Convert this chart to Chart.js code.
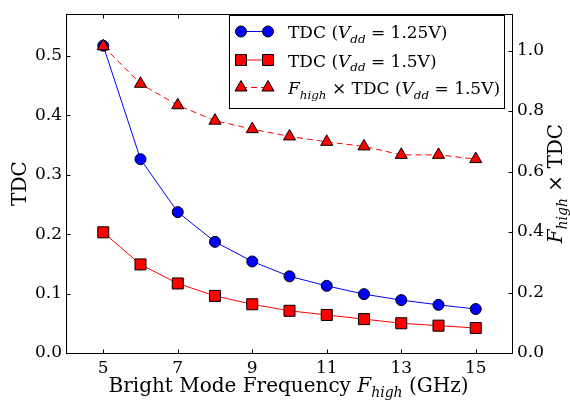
<!DOCTYPE html>
<html>
<head>
<meta charset="utf-8">
<script src="https://cdn.jsdelivr.net/npm/chart.js@4.4.1/dist/chart.umd.min.js"></script>
<style>
  html, body { margin: 0; padding: 0; background: #fff; }
  #wrap { width: 570px; height: 403px; }
</style>
</head>
<body>
<div id="wrap"><canvas id="c" width="570" height="403"></canvas></div>
<script>
// ---- data ----
const freqs = [5, 6, 7, 8, 9, 10, 11, 12, 13, 14, 15];
const tdcVdd125 = [0.517, 0.326, 0.237, 0.187, 0.154, 0.129, 0.113, 0.099, 0.089, 0.081, 0.074];
const tdcVdd15 = [0.203, 0.149, 0.117, 0.096, 0.082, 0.071, 0.064, 0.057, 0.050, 0.046, 0.042];
const fTdcVdd15 = [1.014, 0.890, 0.819, 0.768, 0.740, 0.716, 0.698, 0.683, 0.655, 0.655, 0.641];
const xTicks = [5, 7, 9, 11, 13, 15];
const leftTicks = [0.0, 0.1, 0.2, 0.3, 0.4, 0.5];
const rightTicks = [0.0, 0.2, 0.4, 0.6, 0.8, 1.0];

const FONT = "'DejaVu Serif', 'Liberation Serif', serif";
const TICK_SIZE = 17;

// rich text: segments [text, italic, sub]
function richWidth(ctx, segs, size) {
  let w = 0;
  for (const s of segs) {
    const fs = s[2] ? size * 0.7 : size;
    ctx.font = (s[1] ? 'italic ' : '') + fs + 'px ' + FONT;
    w += ctx.measureText(s[0]).width;
  }
  return w;
}
function drawRich(ctx, segs, x, y, size) {
  let cx = x;
  ctx.textBaseline = 'alphabetic';
  ctx.textAlign = 'left';
  ctx.fillStyle = '#000';
  for (const s of segs) {
    const fs = s[2] ? size * 0.7 : size;
    ctx.font = (s[1] ? 'italic ' : '') + fs + 'px ' + FONT;
    ctx.fillText(s[0], cx, y + (s[2] ? size * 0.27 : 0));
    cx += ctx.measureText(s[0]).width;
  }
}

const xTitle = [['Bright Mode Frequency ', false, false], ['F', true, false], ['high', true, true], [' (GHz)', false, false]];
const yTitle = [['TDC', false, false]];
const y2Title = [['F', true, false], ['high', true, true], [' \u00d7 TDC', false, false]];
const legendItems = [
  { segs: [['TDC (', false, false], ['V', true, false], ['dd', true, true], [' = 1.25V)', false, false]], ds: 0 },
  { segs: [['TDC (', false, false], ['V', true, false], ['dd', true, true], [' = 1.5V)', false, false]], ds: 1 },
  { segs: [['F', true, false], ['high', true, true], [' \u00d7 TDC (', false, false], ['V', true, false], ['dd', true, true], [' = 1.5V)', false, false]], ds: 2 }
];

function drawMarker(ctx, style, x, y, r, fill) {
  ctx.save();
  ctx.fillStyle = fill;
  ctx.strokeStyle = '#000';
  ctx.lineWidth = 1;
  ctx.setLineDash([]);
  ctx.beginPath();
  if (style === 'circle') {
    ctx.arc(x, y, r, 0, Math.PI * 2);
  } else if (style === 'rect') {
    const s = r * Math.SQRT1_2;
    ctx.rect(x - s, y - s, 2 * s, 2 * s);
  } else {
    ctx.moveTo(x, y - r);
    ctx.lineTo(x + Math.sin(Math.PI * 2 / 3) * r, y + r / 2);
    ctx.lineTo(x - Math.sin(Math.PI * 2 / 3) * r, y + r / 2);
    ctx.closePath();
  }
  ctx.fill();
  ctx.stroke();
  ctx.restore();
}

const decorPlugin = {
  id: 'decor',
  afterDraw(chart) {
    const ctx = chart.ctx;
    const a = chart.chartArea;
    const L = Math.round(a.left) + 0.5, R = Math.round(a.right) - 0.5;
    const T = Math.round(a.top) + 0.5, B = Math.round(a.bottom) + 0.5;
    ctx.save();
    // frame
    ctx.strokeStyle = '#000';
    ctx.lineWidth = 1;
    ctx.strokeRect(L, T, R - L, B - T);
    // inward ticks
    const tl = 4;
    ctx.beginPath();
    const xs = chart.scales.x, yl = chart.scales.y, yr = chart.scales.y2;
    for (const v of xTicks) {
      const px = Math.round(xs.getPixelForValue(v)) + 0.5;
      ctx.moveTo(px, B); ctx.lineTo(px, B - tl);
      ctx.moveTo(px, T); ctx.lineTo(px, T + tl);
    }
    for (const v of leftTicks) {
      const py = Math.round(yl.getPixelForValue(v)) + 0.5;
      ctx.moveTo(L, py); ctx.lineTo(L + tl, py);
    }
    for (const v of rightTicks) {
      const py = Math.round(yr.getPixelForValue(v)) + 0.5;
      ctx.moveTo(R, py); ctx.lineTo(R - tl, py);
    }
    ctx.stroke();

    // axis titles
    const TS = 20;
    const xw = richWidth(ctx, xTitle, TS);
    drawRich(ctx, xTitle, (a.left + a.right) / 2 - 1 - xw / 2, 392, TS);

    const cy = (a.top + a.bottom) / 2;
    ctx.save();
    ctx.translate(26, cy);
    ctx.rotate(-Math.PI / 2);
    const yw = richWidth(ctx, yTitle, 20);
    drawRich(ctx, yTitle, -yw / 2, 0, 20);
    ctx.restore();

    ctx.save();
    ctx.translate(562, cy);
    ctx.rotate(-Math.PI / 2);
    const y2w = richWidth(ctx, y2Title, 20);
    drawRich(ctx, y2Title, -y2w / 2, 0, 20);
    ctx.restore();

    // legend
    const bx = 229.5, by = 15.5, bw = 275, bh = 93;
    ctx.fillStyle = '#fff';
    ctx.fillRect(bx, by, bw, bh);
    ctx.strokeStyle = '#000';
    ctx.lineWidth = 1;
    ctx.strokeRect(bx, by, bw, bh);
    const rows = [31.5, 60, 87.5];
    legendItems.forEach((it, i) => {
      const ds = chart.data.datasets[it.ds];
      const y = rows[i];
      const x0 = 241, x1 = 268;
      ctx.save();
      ctx.strokeStyle = ds.borderColor;
      ctx.lineWidth = 1;
      ctx.setLineDash(ds.borderDash || []);
      ctx.beginPath();
      ctx.moveTo(x0, y); ctx.lineTo(x1, y);
      ctx.stroke();
      ctx.restore();
      drawMarker(ctx, ds.pointStyle, x0, y, ds.pointRadius, ds.pointBackgroundColor);
      drawMarker(ctx, ds.pointStyle, x1, y, ds.pointRadius, ds.pointBackgroundColor);
      drawRich(ctx, it.segs, 288, y + 6.5, 17);
    });
    ctx.restore();
  }
};

const mk = (arr) => freqs.map((f, i) => ({ x: f, y: arr[i] }));

new Chart(document.getElementById('c'), {
  type: 'line',
  data: {
    datasets: [
      {
        label: 'TDC (Vdd = 1.25V)', data: mk(tdcVdd125), yAxisID: 'y', order: 2,
        borderColor: '#0000ff', borderWidth: 1, pointStyle: 'circle', pointRadius: 5.5,
        pointBackgroundColor: '#0000ff', pointBorderColor: '#000', pointBorderWidth: 1, tension: 0
      },
      {
        label: 'TDC (Vdd = 1.5V)', data: mk(tdcVdd15), yAxisID: 'y', order: 1,
        borderColor: '#ff0000', borderWidth: 1, pointStyle: 'rect', pointRadius: 7.8,
        pointBackgroundColor: '#ff0000', pointBorderColor: '#000', pointBorderWidth: 1, tension: 0
      },
      {
        label: 'Fhigh × TDC (Vdd = 1.5V)', data: mk(fTdcVdd15), yAxisID: 'y2', order: 0,
        borderColor: '#ff0000', borderWidth: 1, borderDash: [6, 4], pointStyle: 'triangle', pointRadius: 7,
        pointBackgroundColor: '#ff0000', pointBorderColor: '#000', pointBorderWidth: 1, tension: 0
      }
    ]
  },
  options: {
    responsive: false,
    animation: false,
    devicePixelRatio: 1,
    layout: { padding: { top: 6, left: 0, right: 0, bottom: 0 } },
    plugins: { legend: { display: false }, tooltip: { enabled: false } },
    scales: {
      x: {
        type: 'linear', min: 4, max: 16,
        afterBuildTicks: (s) => { s.ticks = xTicks.map(v => ({ value: v })); },
        afterFit: (s) => { s.height = 50; },
        grid: { display: false, drawTicks: false },
        border: { display: false },
        ticks: { padding: 5, color: '#000', font: { family: FONT, size: TICK_SIZE }, maxRotation: 0, callback: (v) => String(v) }
      },
      y: {
        type: 'linear', position: 'left', min: 0, max: 0.57,
        afterBuildTicks: (s) => { s.ticks = leftTicks.map(v => ({ value: v })); },
        afterFit: (s) => { s.width = 66; },
        grid: { display: false, drawTicks: false },
        border: { display: false },
        ticks: { padding: 4, color: '#000', font: { family: FONT, size: TICK_SIZE }, callback: (v) => v.toFixed(1) }
      },
      y2: {
        type: 'linear', position: 'right', min: 0, max: 1.12,
        afterBuildTicks: (s) => { s.ticks = rightTicks.map(v => ({ value: v })); },
        afterFit: (s) => { s.width = 57; },
        grid: { display: false, drawTicks: false },
        border: { display: false },
        ticks: { padding: 4, color: '#000', font: { family: FONT, size: TICK_SIZE }, callback: (v) => v.toFixed(1) }
      }
    }
  },
  plugins: [decorPlugin]
});
</script>
</body>
</html>
